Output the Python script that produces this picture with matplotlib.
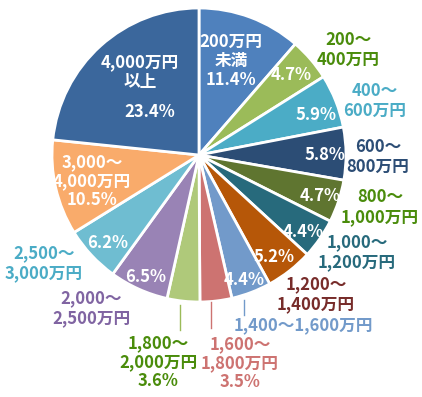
import matplotlib
matplotlib.use("Agg")
import matplotlib.pyplot as plt

plt.rcParams['font.family'] = ['Noto Sans CJK JP', 'DejaVu Sans']

categories = ["200万円未満", "200～400万円", "400～600万円", "600～800万円",
              "800～1,000万円", "1,000～1,200万円", "1,200～1,400万円",
              "1,400～1,600万円", "1,600～1,800万円", "1,800～2,000万円",
              "2,000～2,500万円", "2,500～3,000万円", "3,000～4,000万円",
              "4,000万円以上"]
values = [11.4, 4.7, 5.9, 5.8, 4.7, 4.4, 5.2, 4.4, 3.5, 3.6, 6.5, 6.2, 10.5, 23.4]
pct_labels = ["11.4%", "4.7%", "5.9%", "5.8%", "4.7%", "4.4%", "5.2%", "4.4%",
              "3.5%", "3.6%", "6.5%", "6.2%", "10.5%", "23.4%"]

colors = ["#4F81BD", "#9BBB59", "#4BACC6", "#2C4D75", "#5F7530", "#276A7C",
          "#B65708", "#729ACA", "#CD7371", "#AFC97A", "#9983B5", "#6FBDD1",
          "#F9AB6B", "#3B679C"]

W, H = 422, 397
fig = plt.figure(figsize=(W / 100, H / 100), dpi=100)
ax = fig.add_axes([0, 0, 1, 1])

cx, cy, R = 199, H - 155, 147
ax.pie(values, colors=colors, startangle=90, counterclock=False,
       center=(cx, cy), radius=R,
       wedgeprops=dict(edgecolor='white', linewidth=2.0), frame=True)
ax.set_xlim(0, W)
ax.set_ylim(0, H)
ax.set_aspect('equal')
ax.axis('off')

FS = 12
GREEN = "#4A8C0B"


def t(x, y, s, color='white', ls=1.15):
    ax.text(x, H - y, s, color=color, ha='center', va='center',
            fontsize=FS, fontweight='bold', linespacing=ls)


# inside labels
t(231, 61, "200万円\n未満\n" + pct_labels[0], ls=1.05)
t(291, 75, pct_labels[1])
t(316, 115, pct_labels[2])
t(325, 155, pct_labels[3])
t(320, 196, pct_labels[4])
t(303, 232, pct_labels[5])
t(274, 257, pct_labels[6])
t(244, 280, pct_labels[7])
t(146, 277, pct_labels[10])
t(108, 243, pct_labels[11])
t(92, 181, "3,000～\n4,000万円\n" + pct_labels[12], ls=1.05)
t(140, 72, "4,000万円\n以上")
t(150, 112, pct_labels[13])

# outside labels
t(348, 50, "200～\n400万円", GREEN)
t(375, 101, "400～\n600万円", "#4BACC6")
t(378, 157, "600～\n800万円", "#2C4D75")
t(380, 207, "800～\n1,000万円", GREEN)
t(357, 252, "1,000～\n1,200万円", "#276A7C")
t(316, 294, "1,200～\n1,400万円", "#772C2A")
t(303, 325, "1,400～1,600万円", "#729ACA")
t(240, 363, "1,600～\n1,800万円\n" + pct_labels[8], "#CD7371", ls=1.05)
t(158, 362, "1,800～\n2,000万円\n" + pct_labels[9], GREEN, ls=1.05)
t(91, 308, "2,000～\n2,500万円", "#8064A2")
t(44, 263, "2,500～\n3,000万円", "#4BACC6")

# leader lines
ax.plot([244, 244], [H - 300, H - 315], color="#729ACA", lw=1)
ax.plot([211, 211], [H - 302, H - 328], color="#CD7371", lw=1)
ax.plot([180, 180], [H - 305, H - 330], color="#9BBB59", lw=1)

fig.savefig("out.png", dpi=100)
